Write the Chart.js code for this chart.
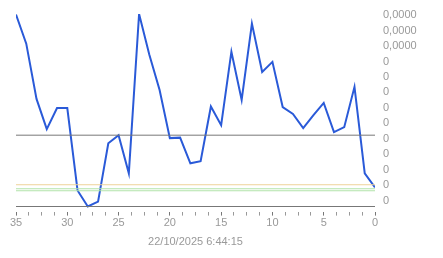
<!DOCTYPE html>
<html>
<head>
<meta charset="utf-8">
<script src="https://cdn.jsdelivr.net/npm/chart.js@4/dist/chart.umd.min.js"></script>
<style>
  html, body { margin: 0; padding: 0; background: #fff; }
  #wrap { width: 443px; height: 258px; }
</style>
</head>
<body>
<div id="wrap"><canvas id="priceChart" width="443" height="258"></canvas></div>
<script>
// x runs from 35 (left) down to 0 (right)
const xValues = [35, 34, 33, 32, 31, 30, 29, 28, 27, 26, 25, 24, 23, 22, 21, 20, 19, 18,
                 17, 16, 15, 14, 13, 12, 11, 10, 9, 8, 7, 6, 5, 4, 3, 2, 1, 0];
const priceValues = [12.04, 10.16, 6.58, 4.62, 5.99, 5.99, 0.65, -0.39, -0.07, 3.71, 4.23, 1.76,
                     12.08, 9.44, 7.16, 4.04, 4.07, 2.41, 2.54, 6.09, 4.88, 9.64, 6.51, 11.46,
                     8.33, 8.98, 6.05, 5.60, 4.69, 5.53, 6.32, 4.43, 4.75, 7.36, 1.76, 0.85];

// horizontal reference levels
const baseLevel = -0.39;
const midLevel = 4.23;
const upperBand = 1.02;
const lowerBands = [0.76, 0.63];

const yTickValues = [0, 1, 2, 3, 4, 5, 6, 7, 8, 9, 10, 11, 12];
const yTickLabels = ['0', '0', '0', '0', '0', '0', '0', '0', '0', '0', '0,0000', '0,0000', '0,0000'];
const xTickLabels = ['0', '5', '10', '15', '20', '25', '30', '35'];
const timeStamp = '22/10/2025 6:44:15';

function flatLine(level) {
    return [{ x: 35, y: level }, { x: 0, y: level }];
}

function levelSet(level, color) {
    return {
        data: flatLine(level),
        borderColor: color,
        borderWidth: 1,
        pointRadius: 0,
        fill: false,
    };
}

const ctx = document.getElementById('priceChart').getContext('2d');

new Chart(ctx, {
    type: 'line',
    data: {
        datasets: [
            levelSet(baseLevel, '#777777'),
            levelSet(midLevel, '#777777'),
            levelSet(upperBand, '#efd39a'),
            levelSet(lowerBands[0], '#b2e3aa'),
            levelSet(lowerBands[1], '#b2e3aa'),
            {
                data: xValues.map((x, i) => ({ x: x, y: priceValues[i] })),
                borderColor: '#2a5ad8',
                borderWidth: 2,
                pointRadius: 0,
                tension: 0,
                fill: false,
            }
        ]
    },
    options: {
        responsive: false,
        animation: false,
        layout: { padding: { left: 16, top: 14, right: 0, bottom: 9 } },
        plugins: { legend: { display: false }, tooltip: { enabled: false } },
        scales: {
            x: {
                type: 'linear',
                reverse: true,
                min: 0,
                max: 35,
                border: { display: false },
                grid: {
                    drawOnChartArea: false,
                    tickLength: 4,
                    tickColor: (c) => (c.tick && c.tick.value % 5 === 0) ? '#777777' : '#999999',
                },
                ticks: {
                    stepSize: 1.25,
                    autoSkip: false,
                    maxRotation: 0,
                    padding: 1,
                    color: '#999999',
                    font: { family: 'Liberation Sans', size: 11 },
                    callback: (v) => {
                        const s = String(v);
                        return xTickLabels.includes(s) ? s : '';
                    }
                },
                title: {
                    display: true,
                    text: timeStamp,
                    color: '#999999',
                    padding: { top: 5, bottom: 0 },
                    font: { family: 'Liberation Sans', size: 11 },
                }
            },
            y: {
                type: 'linear',
                position: 'right',
                min: -0.72,
                max: 12.08,
                border: { display: false },
                grid: { display: false },
                afterBuildTicks: (scale) => {
                    scale.ticks = yTickValues.map(v => ({ value: v }));
                },
                afterFit: (scale) => { scale.width = 68; },
                ticks: {
                    padding: 0,
                    color: '#999999',
                    font: { family: 'Liberation Sans', size: 11 },
                    callback: (v) => yTickLabels[yTickValues.indexOf(v)] ?? ''
                }
            }
        }
    }
});
</script>
</body>
</html>
